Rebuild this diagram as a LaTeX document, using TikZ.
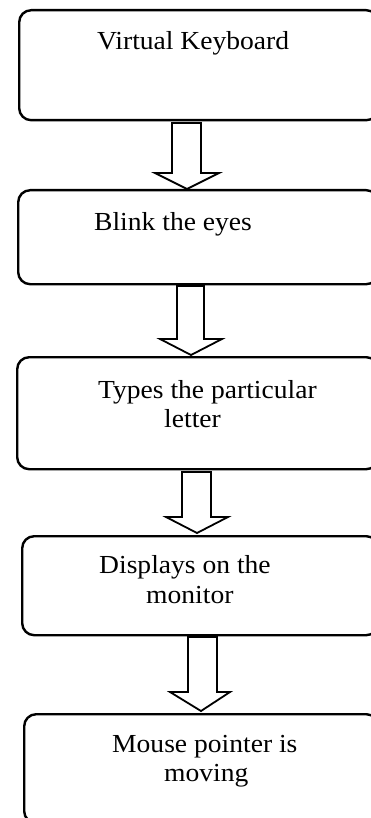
\documentclass[tikz,border=0pt]{standalone}
\usepackage{fontspec}
\setmainfont{Liberation Serif}[FakeStretch=1.06]
\begin{document}
\begin{tikzpicture}[x=1pt,y=-1pt,
  box/.style={draw=black, line width=2.4pt, rounded corners=12pt, inner sep=0pt, anchor=north west},
  lbl/.style={anchor=base west, inner sep=0pt, font=\fontsize{26}{30}\selectfont},
  blockarrow/.style={draw=black, line width=1.8pt, fill=white, line join=miter}]
\useasboundingbox (0,0) rectangle (371,818);
\clip (0,0) rectangle (371,818);
\fill[white] (0,0) rectangle (371,818);
% boxes
\node (b1) [box, minimum width=359pt, minimum height=110pt] at (18,9) {};
\node (b2) [box, minimum width=360pt, minimum height=94pt] at (17,189) {};
\node (b3) [box, minimum width=361pt, minimum height=112pt] at (16,356) {};
\node (b4) [box, minimum width=356pt, minimum height=99pt] at (21,535) {};
\node (b5) [box, minimum width=354pt, minimum height=109pt] at (23,713) {};
% texts
\node (t1) [lbl] at (97,50) {Virtual Keyboard};
\node (t2) [lbl] at (94,230) {Blink the eyes};
\node (t3a) [lbl] at (98,398) {Types the particular};
\node (t3b) [lbl] at (164,427) {letter};
\node (t4a) [lbl] at (99,573) {Displays on the};
\node (t4b) [lbl] at (146,603) {monitor};
\node (t5a) [lbl] at (112,752) {Mouse pointer is};
\node (t5b) [lbl] at (164,781) {moving};
% block arrows
\draw[blockarrow] (172,123) -- (201,123) -- (201,173) -- (219,173) -- (187,189) -- (155,173) -- (172,173) -- cycle;
\draw[blockarrow] (177,286) -- (204,286) -- (204,339) -- (222,339) -- (191,355) -- (160,339) -- (177,339) -- cycle;
\draw[blockarrow] (182,472) -- (211,472) -- (211,517) -- (228,517) -- (197,533) -- (166,517) -- (182,517) -- cycle;
\draw[blockarrow] (188,637) -- (217,637) -- (217,692) -- (230,692) -- (201,711) -- (170,692) -- (188,692) -- cycle;
\end{tikzpicture}
\end{document}
